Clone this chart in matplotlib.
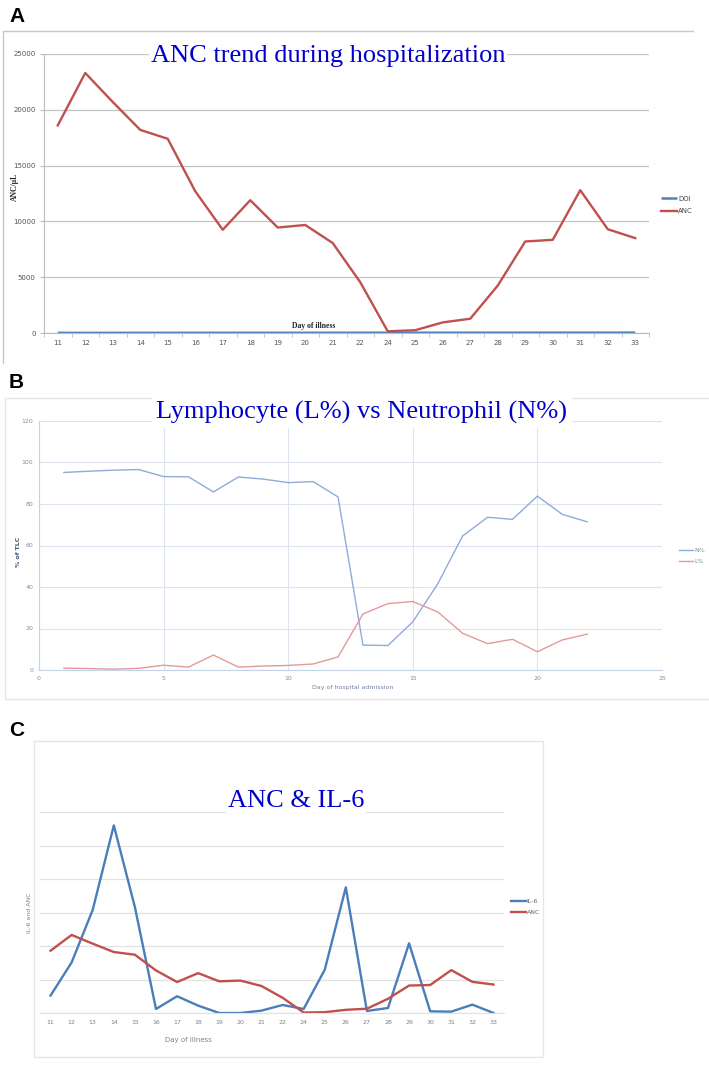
import matplotlib
matplotlib.use("Agg")
import matplotlib.pyplot as plt

# ---- data ----
days = [11, 12, 13, 14, 15, 16, 17, 18, 19, 20, 21, 22,
        24, 25, 26, 27, 28, 29, 30, 31, 32, 33]
anc = [18600, 23300, 20700, 18200, 17400, 12700, 9250, 11900, 9450, 9680, 8060, 4550,
       150, 250, 950, 1280, 4250, 8200, 8350, 12800, 9300, 8500]
il6 = [5200, 15100, 30800, 56000, 31600, 1200, 5000, 2200, 0, 0, 700, 2400,
       1200, 12900, 37500, 600, 1500, 20800, 500, 400, 2500, 0]

adm_day = list(range(1, 23))
n_pct = [95.2, 95.8, 96.3, 96.6, 93.2, 93.1, 85.8, 93.0, 92.0, 90.3, 90.8, 83.4,
         12.0, 11.8, 23.2, 41.5, 64.6, 73.6, 72.6, 83.8, 75.0, 71.4]
l_pct = [0.9, 0.7, 0.4, 0.8, 2.3, 1.4, 7.2, 1.4, 1.9, 2.2, 2.9, 6.3,
         27.0, 32.0, 33.0, 28.0, 17.7, 12.7, 14.8, 8.8, 14.5, 17.3]

W, H = 709, 1081
TITLE_BLUE = "#0000CC"


def px_rect(l, t, r, b):
    return [l / W, 1 - b / H, (r - l) / W, (b - t) / H]


def fx(x):
    return x / W


def fy(y):
    return 1 - y / H


fig = plt.figure(figsize=(W / 100, H / 100), dpi=100)

# background layer for panel frames
bg = fig.add_axes([0, 0, 1, 1], zorder=-5)
bg.set_xlim(0, W); bg.set_ylim(H, 0); bg.axis("off")
bg.plot([3, 3, 693], [363, 31, 31], color="#C8C8C8", lw=1.0)           # A frame
bg.plot([5, 5, 709], [699, 398, 398], color="#E6E6E6", lw=1.0)         # B frame
bg.plot([5, 709], [699, 699], color="#E6E6E6", lw=1.0)
bg.plot([34, 34, 543, 543, 34], [741, 1057, 1057, 741, 741], color="#E6E6E6", lw=1.0)  # C frame

for lab, y in [("A", 16), ("B", 383), ("C", 731)]:
    fig.text(fx(9), fy(y), lab, fontsize=15, fontweight="bold", family="Liberation Sans",
             ha="left", va="center")

x = list(range(len(days)))

# ---- A: ANC trend ----
ax = fig.add_axes(px_rect(44, 54, 649, 333))
ax.plot(x, days, color="#4F81BD", lw=1.8, label="DOI", solid_capstyle="butt")
ax.plot(x, anc, color="#C0504D", lw=1.7, label="ANC")
ax.set_xlim(-0.5, len(days) - 0.5)
ax.set_ylim(0, 25000)
ax.set_yticks(range(0, 25001, 5000))
ax.set_xticks(x)
ax.set_xticklabels([str(d) for d in days])
ax.set_xticks([i - 0.5 for i in range(len(days) + 1)], minor=True)
ax.tick_params(axis="x", which="major", length=0, pad=5, labelsize=5, colors="#555555")
ax.tick_params(axis="x", which="minor", length=3, color="#BBBBBB")
ax.tick_params(axis="y", length=3, color="#BBBBBB", labelsize=5, colors="#555555", pad=3)
ax.grid(axis="y", color="#C4C4C4", lw=0.9)
ax.set_axisbelow(True)
for s in ["top", "right"]:
    ax.spines[s].set_visible(False)
for s in ["left", "bottom"]:
    ax.spines[s].set_color("#BBBBBB")
ax.legend(loc="center left", bbox_to_anchor=(fx(658), fy(205)), bbox_transform=fig.transFigure,
          frameon=False, fontsize=5, handlelength=2.2, handletextpad=0.2, labelspacing=0.9,
          borderpad=0, labelcolor="#444444")
fig.text(fx(328), fy(56), "ANC trend during hospitalization", family="Liberation Serif",
         fontsize=19, color=TITLE_BLUE, ha="center", va="center",
         bbox=dict(facecolor="white", edgecolor="none", pad=1))
fig.text(fx(314), fy(326), "Day of illness", family="Liberation Serif", fontsize=5.5,
         fontweight="bold", ha="center", va="center", color="#222222")
fig.text(fx(15), fy(187), "ANC/µL", family="Liberation Serif", fontsize=5.5,
         fontweight="bold", rotation=90, ha="center", va="center", color="#222222")

# ---- B: lymphocyte vs neutrophil ----
bx = fig.add_axes(px_rect(39, 421, 662, 670))
bx.plot(adm_day, n_pct, color="#8FAADC", lw=1.0, label="N%")
bx.plot(adm_day, l_pct, color="#E39A9A", lw=1.0, label="L%")
bx.set_xlim(0, 25)
bx.set_ylim(0, 120)
bx.set_xticks(range(0, 26, 5))
bx.set_yticks(range(0, 121, 20))
bx.tick_params(length=0, labelsize=4.5, colors="#7F8FA9", pad=4)
bx.grid(color="#DCE4F0", lw=0.8)
bx.set_axisbelow(True)
for s in ["top", "right"]:
    bx.spines[s].set_visible(False)
for s in ["left", "bottom"]:
    bx.spines[s].set_color("#C5D3E8")
bx.legend(loc="center left", bbox_to_anchor=(fx(676), fy(556)), bbox_transform=fig.transFigure,
          frameon=False, fontsize=4.5, handlelength=2.2, handletextpad=0.2, labelspacing=0.9,
          borderpad=0, labelcolor="#7F8FA9")
fig.text(fx(362), fy(412), "Lymphocyte (L%) vs Neutrophil (N%)", family="Liberation Serif",
         fontsize=19, color=TITLE_BLUE, ha="center", va="center",
         bbox=dict(facecolor="white", edgecolor="none", pad=3))
fig.text(fx(353), fy(687), "Day of hospital admission", fontsize=4.5, color="#6F83A3",
         ha="center", va="center")
fig.text(fx(18), fy(552), "% of TLC", fontsize=4.5, fontweight="bold", color="#44577A",
         rotation=90, ha="center", va="center")

# ---- C: ANC & IL-6 ----
cx = fig.add_axes(px_rect(40, 812, 504, 1013))
cx.plot(x, il6, color="#4A7EBB", lw=1.7, label="IL-6")
cx.plot(x, anc, color="#C0504D", lw=1.7, label="ANC")
cx.set_xlim(-0.5, len(days) - 0.5)
cx.set_ylim(0, 60000)
cx.set_yticks(range(0, 60001, 10000))
cx.set_yticklabels([])
cx.set_xticks(x)
cx.set_xticklabels([str(d) for d in days])
cx.tick_params(length=0, labelsize=4.5, colors="#808080", pad=5)
cx.grid(axis="y", color="#E2E2E2", lw=0.9)
cx.set_axisbelow(True)
for s in ["top", "right", "left"]:
    cx.spines[s].set_visible(False)
cx.spines["bottom"].set_color("#E2E2E2")
cx.legend(loc="center left", bbox_to_anchor=(fx(508), fy(907)), bbox_transform=fig.transFigure,
          frameon=False, fontsize=4.5, handlelength=2.3, handletextpad=0.2, labelspacing=0.9,
          borderpad=0, labelcolor="#666666")
fig.text(fx(296), fy(801), "ANC & IL-6", family="Liberation Serif", fontsize=19,
         color=TITLE_BLUE, ha="center", va="center",
         bbox=dict(facecolor="white", edgecolor="none", pad=1))
fig.text(fx(188), fy(1040), "Day of illness", fontsize=5, color="#808080",
         ha="center", va="center")
fig.text(fx(30), fy(913), "IL-6 and ANC", fontsize=4.5, color="#808080",
         rotation=90, ha="center", va="center")

fig.savefig("out.png", dpi=100)
